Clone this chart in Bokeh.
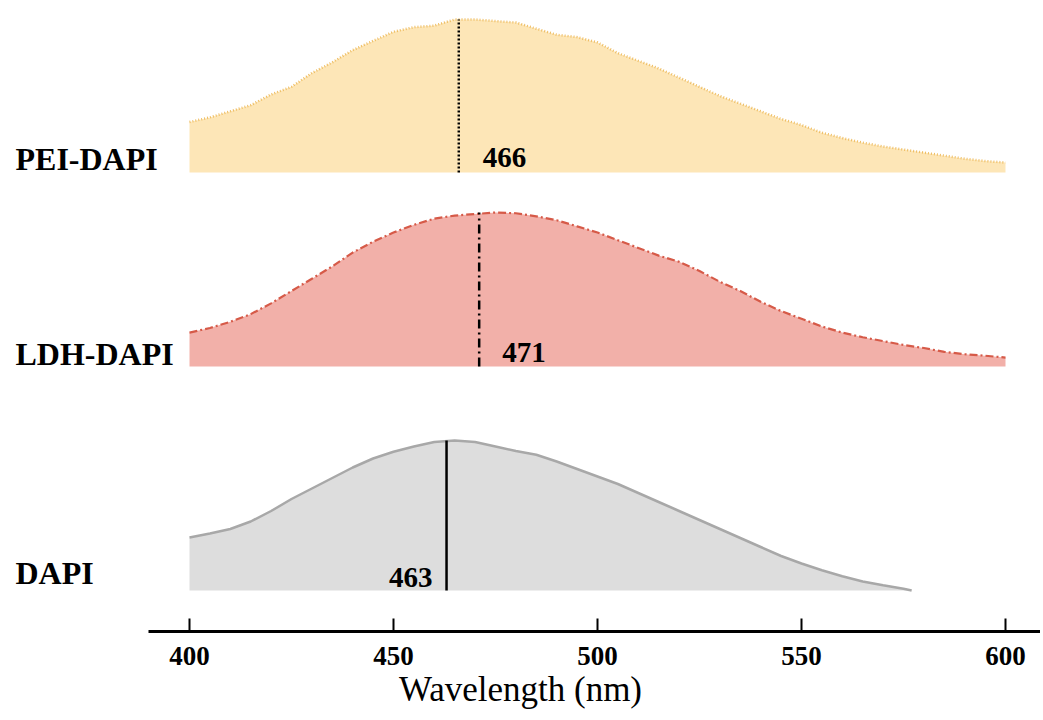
from bokeh.plotting import figure
from bokeh.models import Range1d, FixedTicker, LinearAxis
from bokeh.core.properties import value
from bokeh.embed import file_html
from bokeh.resources import INLINE

# ---------------- data ----------------
wl = [400, 405, 410, 415, 420, 425, 430, 435, 440, 445, 450, 455, 460, 465, 470,
      475, 480, 485, 490, 495, 500, 505, 510, 515, 520, 525, 530, 535, 540, 545,
      550, 555, 560, 565, 570, 575, 580, 585, 590, 595, 600]

pei_dapi = [0.33, 0.36, 0.40, 0.44, 0.51, 0.56, 0.65, 0.72, 0.80, 0.86, 0.92, 0.95,
            0.96, 1.00, 1.00, 0.99, 0.98, 0.94, 0.90, 0.885, 0.85, 0.78, 0.73, 0.68,
            0.62, 0.56, 0.50, 0.45, 0.40, 0.35, 0.31, 0.26, 0.225, 0.195, 0.17,
            0.15, 0.13, 0.11, 0.09, 0.075, 0.065]

ldh_dapi = [0.22, 0.25, 0.29, 0.34, 0.41, 0.49, 0.57, 0.65, 0.74, 0.81, 0.87, 0.92,
            0.96, 0.98, 0.99, 1.00, 0.995, 0.975, 0.95, 0.91, 0.87, 0.82, 0.77, 0.72,
            0.68, 0.62, 0.55, 0.49, 0.42, 0.36, 0.31, 0.26, 0.22, 0.19, 0.165, 0.14,
            0.12, 0.095, 0.08, 0.07, 0.058]

dapi_wl = [400, 405, 410, 415, 420, 425, 430, 435, 440, 445, 450, 455, 460, 465, 470,
           475, 480, 485, 490, 495, 500, 505, 510, 515, 520, 525, 530, 535, 540, 545,
           550, 555, 560, 565, 570, 575, 577]
dapi = [0.353, 0.38, 0.41, 0.46, 0.53, 0.61, 0.68, 0.75, 0.82, 0.88, 0.925, 0.96,
        0.99, 1.00, 0.99, 0.96, 0.93, 0.905, 0.86, 0.81, 0.76, 0.71, 0.65, 0.59,
        0.53, 0.47, 0.41, 0.35, 0.29, 0.23, 0.18, 0.135, 0.095, 0.06, 0.035, 0.012, 0.0]

series_names = ["PEI-DAPI", "LDH-DAPI", "DAPI"]
peaks = [466, 471, 463]
x_ticks = [400, 450, 500, 550, 600]
x_label = "Wavelength (nm)"

# ---------------- layout constants ----------------
W, H = 1040, 720
FRAME_H = 631
px_per_nm = 4.08
x_start = 400 - 189 / px_per_nm
x_end = 400 + (W - 189) / px_per_nm
axis_left = 400 - (189 - 148) / px_per_nm
title_centre = 400 + (532 - 189) / px_per_nm

bases = [459, 265, 41]
amps = [153, 154, 150]
fills = ["#fde6b7", "#f2b0a9", "#dddddd"]
edges = ["#eebd62", "#d65a48", "#a8a8a8"]
edge_dash = ["1 2", "8 3 2 3", "solid"]
edge_w = [2.5, 2.2, 2.5]
vdash = ["2 2", "9 4 2 4", "solid"]

SERIF = value("Liberation Serif")

p = figure(width=W, height=H, output_backend="svg", toolbar_location=None,
           x_range=Range1d(x_start, x_end), y_range=Range1d(0, FRAME_H),
           y_axis_location=None, min_border_left=0, min_border_right=0,
           min_border_top=0, min_border_bottom=H - FRAME_H)
p.grid.visible = False
p.outline_line_color = None
p.background_fill_color = "white"
p.border_fill_color = "white"

curves = [(wl, pei_dapi), (wl, ldh_dapi), (dapi_wl, dapi)]
for i, (xs, ys) in enumerate(curves):
    top = [bases[i] + amps[i] * v for v in ys]
    p.varea(x=xs, y1=[bases[i]] * len(xs), y2=top, fill_color=fills[i])
    p.line(x=xs, y=top, line_color=edges[i], line_width=edge_w[i],
           line_dash=edge_dash[i])
    p.segment(x0=[peaks[i]], y0=[bases[i]], x1=[peaks[i]], y1=[bases[i] + amps[i]],
              line_color="black", line_width=2.5, line_dash=vdash[i])

# peak value labels
lab_style = dict(text_font=SERIF, text_font_style="bold", text_font_size="29px",
                 text_baseline="alphabetic", text_color="black")
p.text(x=[peaks[0]], y=[bases[0]], text=[str(peaks[0])], x_offset=24, y_offset=-15,
       text_align="left", **lab_style)
p.text(x=[peaks[1]], y=[bases[1]], text=[str(peaks[1])], x_offset=23, y_offset=-14,
       text_align="left", **lab_style)
p.text(x=[peaks[2]], y=[bases[2]], text=[str(peaks[2])], x_offset=-14, y_offset=-13,
       text_align="right", **lab_style)

# series names on the left
lab_x = x_start + 15 / px_per_nm
p.text(x=[lab_x] * 3, y=bases, text=series_names, y_offset=[-14, -13, -18],
       text_font=SERIF, text_font_style="bold", text_font_size="32px",
       text_align="left", text_baseline="alphabetic", text_color="black")

# x axis
ax = p.xaxis[0]
ax.bounds = (axis_left, x_end)
ax.ticker = FixedTicker(ticks=x_ticks)
ax.minor_tick_line_color = None
ax.major_tick_in = 13
ax.major_tick_out = 0
ax.major_tick_line_width = 2
ax.major_tick_line_color = "black"
ax.axis_line_width = 3
ax.axis_line_color = "black"
ax.major_label_text_font = "Liberation Serif"
ax.major_label_text_font_style = "bold"
ax.major_label_text_font_size = "27px"
ax.major_label_text_color = "black"
ax.major_label_standoff = 15

# second, line-less axis carrying only the title
tax = LinearAxis(ticker=FixedTicker(ticks=[]), bounds=(title_centre - 10, title_centre + 10),
                 axis_line_color=None, major_tick_line_color=None,
                 minor_tick_line_color=None, major_tick_in=0, major_tick_out=0,
                 major_label_standoff=0, axis_label=x_label,
                 axis_label_text_font="Liberation Serif",
                 axis_label_text_font_style="normal",
                 axis_label_text_font_size="35px", axis_label_text_color="black",
                 axis_label_standoff=2)
p.add_layout(tax, "below")

open("out.html", "w").write(file_html(p, INLINE))
